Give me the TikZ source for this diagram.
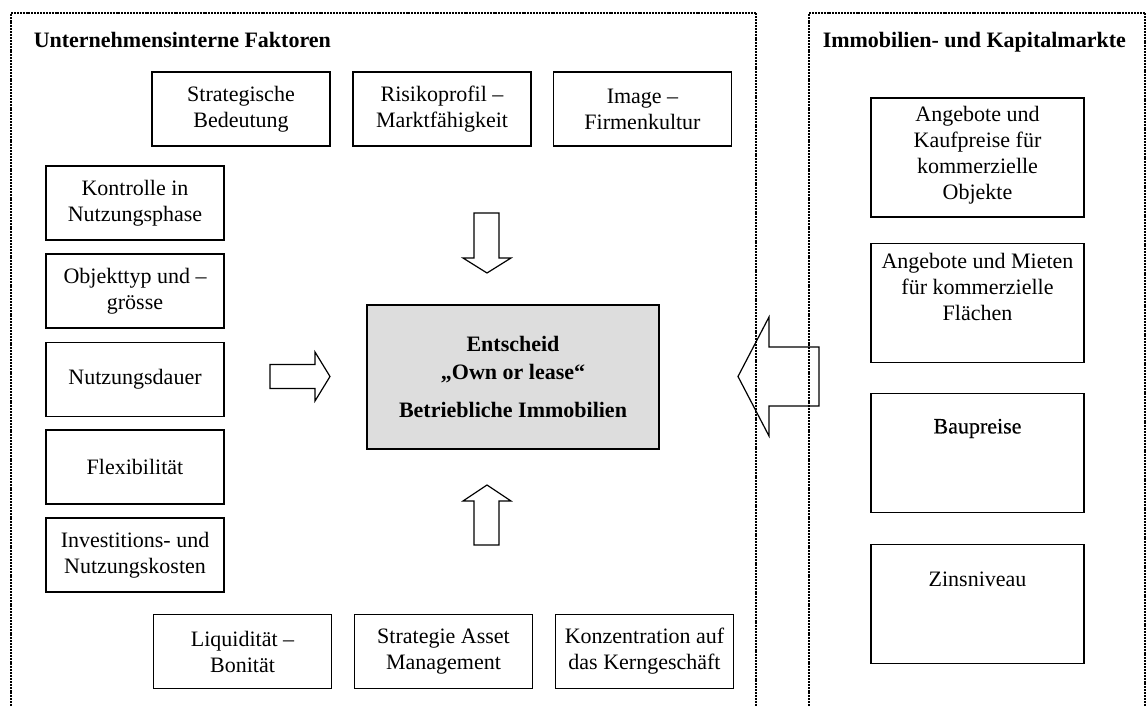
\documentclass[tikz,border=0pt]{standalone}
\usepackage{fontspec}
\setmainfont{Liberation Serif}
\newfontfamily\baufont[FakeBold=0.5]{Liberation Serif}

\tikzset{every picture/.style={line width=0.75pt}}
\tikzset{
	faktor/.style={draw, line width=0.7pt, minimum width=89pt, minimum height=37pt, inner sep=0pt, align=center, font=\fontsize{11}{13}\selectfont},
	markt/.style={draw, line width=0.7pt, minimum width=106.5pt, minimum height=59.5pt, inner sep=0pt},
	markttext/.style={inner sep=0pt, align=center, font=\fontsize{11}{13}\selectfont},
	titel/.style={anchor=base west, inner sep=0pt, font=\fontsize{11}{13}\selectfont\bfseries},
	rahmen/.style={line width=1pt, dash pattern=on 1pt off 0.45pt},
	blockpfeil/.style={line width=0.6pt, line join=miter}}

\begin{document}
\begin{tikzpicture}[x=0.5pt,y=0.5pt,yscale=-1,xscale=1]
	\useasboundingbox (0,0) rectangle (1146,706);

	%Dotted frame: Unternehmensinterne Faktoren
	\draw [rahmen] (11,706) -- (11,13) -- (756,13) -- (756,706) ;
	%Dotted frame: Immobilien- und Kapitalmarkte
	\draw [rahmen] (809,706) -- (809,13) -- (1145,13) -- (1145,706) ;

	% Text Node
	\node [titel] (titelintern) at (33,48) {Unternehmensinterne Faktoren};
	% Text Node
	\node [titel] (titelmarkt) at (822,48) {Immobilien- und Kapitalmarkte};

	%Shape: Rectangle (top row)
	\node [faktor] (strategisch) at (241,109) {Strategische\\Bedeutung};
	\node [faktor] (risiko) at (442,109) {Risikoprofil –\\Marktfähigkeit};
	\node [faktor] (image) at (642.5,109) {Image –\\Firmenkultur};

	%Shape: Rectangle (left column)
	\node [faktor] (kontrolle) at (135,203) {Kontrolle in\\Nutzungsphase};
	\node [faktor] (objekttyp) at (135,291) {Objekttyp und –\\grösse};
	\node [faktor] (dauer) at (135,379.5) {Nutzungsdauer};
	\node [faktor] (flex) at (135,467) {Flexibilität};
	\node [faktor] (kosten) at (135,555) {Investitions- und\\Nutzungskosten};

	%Shape: Rectangle (bottom row)
	\node [faktor] (liquiditaet) at (242.5,651.5) {Liquidität –\\Bonität};
	\node [faktor] (asset) at (443.5,651.5) {Strategie Asset\\Management};
	\node [faktor] (kern) at (644.5,651.5) {Konzentration auf\\das Kerngeschäft};

	%Shape: Rectangle (decision)
	\node [draw, line width=0.8pt, fill={rgb, 255:red, 221; green, 221; blue, 221 }, minimum width=146pt, minimum height=72pt, inner sep=0pt, align=center, font=\fontsize{11}{13}\selectfont\bfseries] (entscheid) at (513,377) {Entscheid\\[1pt]„Own or lease“\\[6pt]Betriebliche Immobilien};

	%Shape: Rectangle (right column)
	\node [markt] (kaufpreise) at (977.5,157.5) {};
	\node [markt] (mieten) at (977.5,303) {};
	\node [markt] (baupreise) at (977.5,453) {};
	\node [markt] (zins) at (977.5,604) {};
	% Text Node
	\node [markttext] (kaufpreisetext) at (977.5,155.5) {Angebote und\\Kaufpreise für\\kommerzielle\\Objekte};
	% Text Node
	\node [markttext] (mietentext) at (977.5,287) {Angebote und Mieten\\für kommerzielle\\Flächen};
	% Text Node
	\node [markttext] (baupreisetext) at (977.5,428.5) {\baufont Baupreise};
	% Text Node
	\node [markttext] (zinstext) at (977.5,579) {Zinsniveau};

	%Down Arrow
	\draw [blockpfeil] (474,213) -- (499,213) -- (499,258) -- (511,258) -- (487,273) -- (463,258) -- (474,258) -- cycle ;
	%Up Arrow
	\draw [blockpfeil] (474,545) -- (499,545) -- (499,501) -- (511,501) -- (487,485) -- (463,501) -- (474,501) -- cycle ;
	%Right Arrow
	\draw [blockpfeil] (270,364.5) -- (315,364.5) -- (315,352) -- (330,376.5) -- (315,401) -- (315,388.5) -- (270,388.5) -- cycle ;
	%Left Arrow
	\draw [blockpfeil] (819,347) -- (769,347) -- (769,317) -- (738,376.5) -- (769,436) -- (769,406) -- (819,406) -- cycle ;

\end{tikzpicture}
\end{document}
